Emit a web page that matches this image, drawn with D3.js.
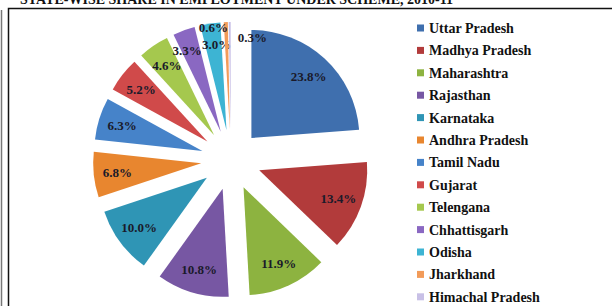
<!DOCTYPE html>
<html>
<head>
<meta charset="utf-8">
<script src="https://cdn.jsdelivr.net/npm/d3@7"></script>
<style>
  body { margin: 0; background: #fff; }
  svg { display: block; }
  text { font-family: "Liberation Serif", "DejaVu Serif", serif; font-weight: bold; }
</style>
</head>
<body>
<div id="chart"></div>
<script>
// datos del grafico
const states = ["Uttar Pradesh", "Madhya Pradesh", "Maharashtra", "Rajasthan", "Karnataka",
  "Andhra Pradesh", "Tamil Nadu", "Gujarat", "Telengana", "Chhattisgarh", "Odisha",
  "Jharkhand", "Himachal Pradesh"];
const shares = [23.8, 13.4, 11.9, 10.8, 10.0, 6.8, 6.3, 5.2, 4.6, 3.3, 3.0, 0.6, 0.3];
const colors = ["#3f6fae", "#b23b3b", "#8db340", "#7757a3", "#2f95b5", "#e8862f",
  "#4683c9", "#d04a4a", "#a5c84e", "#8a68c2", "#3db4d3", "#f29b59", "#c8c0e6"];
const title = "STATE-WISE SHARE IN EMPLOYMENT UNDER SCHEME, 2010-11";

const W = 612, H = 306;
const svg = d3.select("#chart").append("svg")
  .attr("width", W)
  .attr("height", H);

// titulo cortado arriba
svg.append("text")
  .attr("x", 20)
  .attr("y", 4)
  .style("font-size", "14px")
  .attr("fill", "#111")
  .text(title);

// marco
svg.append("line")
  .attr("x1", 1.5).attr("x2", 1.5).attr("y1", 10).attr("y2", H)
  .attr("stroke", "#777").attr("stroke-width", 1.5);
svg.append("rect")
  .attr("x", 8.5).attr("y", 8.5)
  .attr("width", W + 10).attr("height", H + 10)
  .attr("fill", "none")
  .attr("stroke", "#111")
  .attr("stroke-width", 1.5);

// pastel
const cx = 231, cy = 160, r = 108, explode = 30;
const pie = d3.pie().sort(null).value(d => d);
const arc = d3.arc().innerRadius(0).outerRadius(r);
const arcs = pie(shares);

const g = svg.append("g").attr("transform", `translate(${cx},${cy})`);

const slices = g.selectAll("g.slice")
  .data(arcs)
  .enter().append("g")
  .attr("class", "slice")
  .attr("transform", d => {
    const a = (d.startAngle + d.endAngle) / 2;
    return `translate(${explode * Math.sin(a)},${-explode * Math.cos(a)})`;
  });

slices.append("path")
  .attr("d", arc)
  .attr("fill", (d, i) => colors[i]);

// etiquetas (las rebanadas chicas van hacia afuera, como en excel)
const last = shares.length - 1;
slices.append("text")
  .attr("transform", d => {
    const a = (d.startAngle + d.endAngle) / 2;
    let k = 0.78;
    if (d.value < 4) k = 0.8;
    if (d.value < 1) k = d.index === last ? 0.86 : 0.95;
    return `translate(${k * r * Math.sin(a)},${-k * r * Math.cos(a)})`;
  })
  .attr("dy", "0.35em")
  .attr("dx", d => {
    if (d.value < 1) return d.index === last ? 8 : 2;
    if (d.value < 4) return d.index === last - 2 ? 3 : -4; // separar 3.3% y 3.0%
    return 0;
  })
  .attr("text-anchor", d => d.value < 1 ? (d.index === last ? "start" : "end") : "middle")
  .style("font-size", "13px")
  .attr("fill", "#1a1a2a")
  .text(d => d.value.toFixed(1) + "%");

// leyenda
const legend = svg.selectAll(".legend")
  .data(states)
  .enter().append("g")
  .attr("class", "legend")
  .attr("transform", (d, i) => `translate(417, ${28 + i * 22.4})`);

legend.append("rect")
  .attr("x", 0)
  .attr("y", -3.5)
  .attr("width", 7)
  .attr("height", 7)
  .attr("fill", (d, i) => colors[i]);

legend.append("text")
  .attr("x", 12)
  .attr("dy", "0.35em")
  .style("font-size", "14px")
  .attr("fill", "#111")
  .text(d => d);
</script>
</body>
</html>
